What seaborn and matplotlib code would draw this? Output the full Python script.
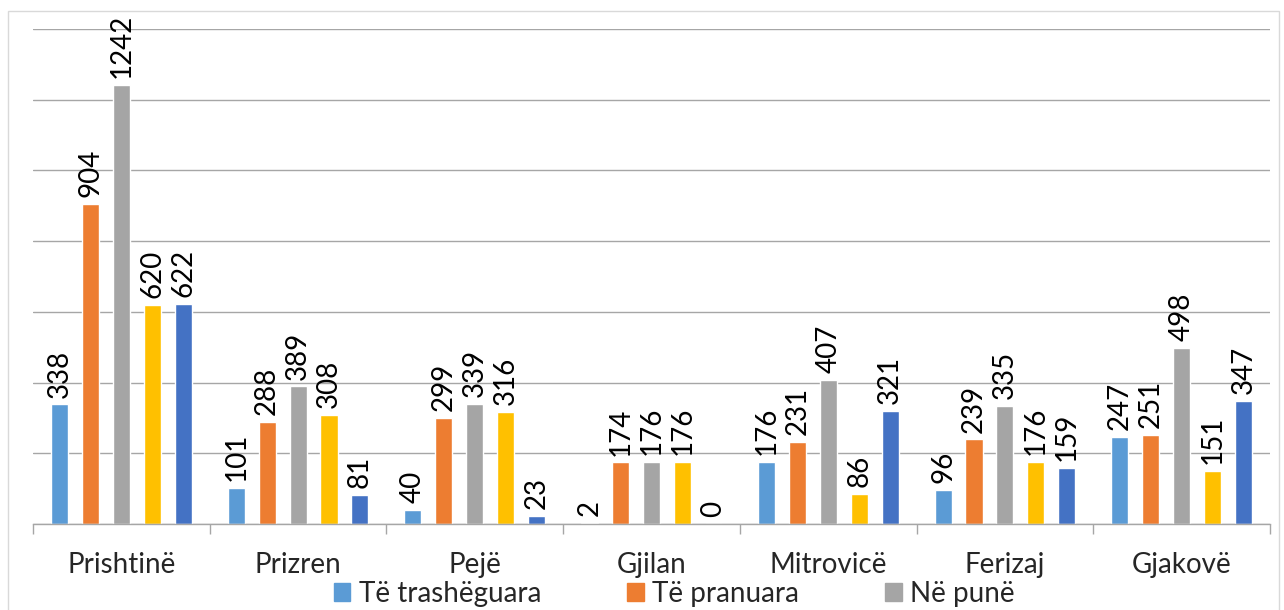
import pandas as pd
import matplotlib.pyplot as plt
import matplotlib.patches as mpatches
import seaborn as sns

# data
cities = ['Prishtinë', 'Prizren', 'Pejë', 'Gjilan', 'Mitrovicë', 'Ferizaj', 'Gjakovë']
series = ['Të trashëguara', 'Të pranuara', 'Në punë', 'Seria 4', 'Seria 5']
trasheguara = [338, 101, 40, 2, 176, 96, 247]
pranuara = [904, 288, 299, 174, 231, 239, 251]
ne_pune = [1242, 389, 339, 176, 407, 335, 498]
seria4 = [620, 308, 316, 176, 86, 176, 151]
seria5 = [622, 81, 23, 0, 321, 159, 347]
colors = ['#5B9BD5', '#ED7D31', '#A5A5A5', '#FFC000', '#4472C4']

rows = []
for name, vals in zip(series, [trasheguara, pranuara, ne_pune, seria4, seria5]):
    for c, v in zip(cities, vals):
        rows.append({'qyteti': c, 'seria': name, 'vlera': v})
df = pd.DataFrame(rows)

sns.set_theme(style='white')
plt.rcParams['font.family'] = ['Lato', 'DejaVu Sans']

fig = plt.figure(figsize=(12.84, 6.10), dpi=100)
ax = fig.add_axes([33/1284, 1 - 524/610, (1270-33)/1284, (524-29)/610])

sns.barplot(data=df, x='qyteti', y='vlera', hue='seria', order=cities,
            hue_order=series, palette=colors, width=0.875, gap=0.45,
            saturation=1, legend=False, ax=ax)

for cont in ax.containers:
    ax.bar_label(cont, labels=[f'{int(b.get_height())}' for b in cont],
                 rotation=90, padding=5, fontsize=20, color='black')

ax.set_ylim(0, 1400)
ax.set_xlim(-0.5, len(cities) - 0.5)
ax.set_yticks(range(0, 1401, 200))
ax.set_yticklabels([])
ax.yaxis.grid(True, color='#A6A6A6', linewidth=1)
ax.set_axisbelow(True)
for s in ['top', 'right', 'left']:
    ax.spines[s].set_visible(False)
ax.spines['bottom'].set_color('#A6A6A6')
ax.spines['bottom'].set_linewidth(1)
ax.tick_params(axis='y', length=0)
ax.tick_params(axis='x', which='major', length=0, pad=20, labelsize=20)
ax.set_xticks([i - 0.5 for i in range(len(cities) + 1)], minor=True)
ax.tick_params(axis='x', which='minor', length=7, width=1, color='#A6A6A6', bottom=True)
ax.set_xlabel('')
ax.set_ylabel('')

handles = [mpatches.Patch(color=colors[i], label=series[i]) for i in range(3)]
fig.legend(handles=handles, loc='center', bbox_to_anchor=(0.525, 1 - 594/610),
           ncol=3, frameon=False, fontsize=20, handlelength=0.6, handleheight=0.6,
           handletextpad=0.3, columnspacing=3.1)

fig.patches.append(mpatches.Rectangle((8/1284, -0.1), (1279-8)/1284, (599+61)/610,
                                      transform=fig.transFigure, fill=False,
                                      edgecolor='#D9D9D9', linewidth=1))

plt.savefig('out.png', dpi=100)
